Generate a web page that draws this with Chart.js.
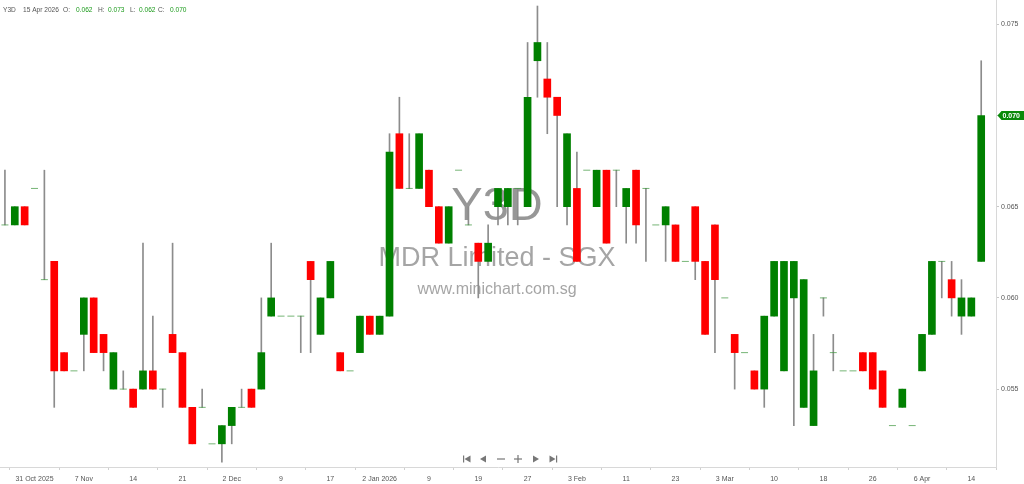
<!DOCTYPE html>
<html>
<head>
<meta charset="utf-8">
<script src="https://cdn.jsdelivr.net/npm/chart.js@4.4.1/dist/chart.umd.min.js"></script>
<style>
  html, body { margin: 0; padding: 0; background: #fff; }
  #wrap { width: 1024px; height: 484px; }
</style>
</head>
<body>
<div id="wrap"><canvas id="priceChart"></canvas></div>
<script>
// header / watermark text
const symbol = "Y3D";
const company = "MDR Limited - SGX";
const site = "www.minichart.com.sg";
const lastDate = "15 Apr 2026";

// daily OHLC, oldest first
const opens = [
  0.064, 0.064, 0.065, 0.066, 0.061, 0.062, 0.057, 0.056, 0.058, 0.060,
  0.058, 0.055, 0.055, 0.055, 0.055, 0.056, 0.055, 0.058, 0.057, 0.054,
  0.054, 0.052, 0.052, 0.053, 0.054, 0.055, 0.055, 0.059, 0.059, 0.059,
  0.059, 0.062, 0.058, 0.060, 0.057, 0.056, 0.057, 0.059, 0.058, 0.059,
  0.069, 0.066, 0.066, 0.067, 0.065, 0.063, 0.067, 0.064, 0.063, 0.062,
  0.065, 0.065, 0.066, 0.065, 0.073, 0.072, 0.071, 0.065, 0.066, 0.067,
  0.065, 0.067, 0.067, 0.065, 0.067, 0.066, 0.064, 0.064, 0.064, 0.062,
  0.065, 0.062, 0.064, 0.060, 0.058, 0.057, 0.056, 0.055, 0.059, 0.056,
  0.060, 0.054, 0.053, 0.060, 0.057, 0.056, 0.056, 0.057, 0.057, 0.056,
  0.053, 0.054, 0.053, 0.056, 0.058, 0.062, 0.061, 0.059, 0.059, 0.062
];
const highs = [
  0.067, 0.065, 0.065, 0.066, 0.067, 0.062, 0.057, 0.056, 0.060, 0.060,
  0.058, 0.057, 0.056, 0.055, 0.063, 0.059, 0.055, 0.063, 0.057, 0.054,
  0.055, 0.052, 0.053, 0.054, 0.055, 0.055, 0.060, 0.063, 0.059, 0.059,
  0.059, 0.062, 0.060, 0.062, 0.057, 0.056, 0.059, 0.059, 0.059, 0.069,
  0.071, 0.069, 0.069, 0.067, 0.065, 0.065, 0.067, 0.065, 0.063, 0.064,
  0.066, 0.066, 0.066, 0.074, 0.076, 0.074, 0.071, 0.069, 0.068, 0.067,
  0.067, 0.067, 0.067, 0.066, 0.067, 0.066, 0.064, 0.065, 0.064, 0.062,
  0.065, 0.062, 0.064, 0.060, 0.058, 0.057, 0.056, 0.059, 0.062, 0.062,
  0.062, 0.061, 0.058, 0.060, 0.058, 0.056, 0.056, 0.057, 0.057, 0.056,
  0.053, 0.055, 0.053, 0.058, 0.062, 0.062, 0.062, 0.061, 0.060, 0.073
];
const lows = [
  0.064, 0.064, 0.064, 0.066, 0.061, 0.054, 0.056, 0.056, 0.056, 0.057,
  0.056, 0.055, 0.055, 0.054, 0.055, 0.055, 0.054, 0.057, 0.054, 0.052,
  0.054, 0.052, 0.051, 0.052, 0.054, 0.054, 0.055, 0.059, 0.059, 0.059,
  0.057, 0.057, 0.058, 0.060, 0.056, 0.056, 0.057, 0.058, 0.058, 0.059,
  0.066, 0.066, 0.066, 0.065, 0.063, 0.063, 0.067, 0.064, 0.060, 0.062,
  0.064, 0.064, 0.064, 0.065, 0.071, 0.069, 0.065, 0.064, 0.062, 0.067,
  0.065, 0.063, 0.065, 0.063, 0.063, 0.062, 0.064, 0.062, 0.062, 0.062,
  0.061, 0.058, 0.057, 0.060, 0.055, 0.057, 0.055, 0.054, 0.059, 0.056,
  0.053, 0.054, 0.053, 0.059, 0.056, 0.056, 0.056, 0.056, 0.055, 0.054,
  0.053, 0.054, 0.053, 0.056, 0.058, 0.060, 0.059, 0.058, 0.059, 0.062
];
const closes = [
  0.064, 0.065, 0.064, 0.066, 0.061, 0.056, 0.056, 0.056, 0.060, 0.057,
  0.057, 0.057, 0.055, 0.054, 0.056, 0.055, 0.055, 0.057, 0.054, 0.052,
  0.054, 0.052, 0.053, 0.054, 0.054, 0.054, 0.057, 0.060, 0.059, 0.059,
  0.059, 0.061, 0.060, 0.062, 0.056, 0.056, 0.059, 0.058, 0.059, 0.068,
  0.066, 0.066, 0.069, 0.065, 0.063, 0.065, 0.067, 0.064, 0.062, 0.063,
  0.066, 0.066, 0.066, 0.071, 0.074, 0.071, 0.070, 0.069, 0.062, 0.067,
  0.067, 0.063, 0.067, 0.066, 0.064, 0.066, 0.064, 0.065, 0.062, 0.062,
  0.062, 0.058, 0.061, 0.060, 0.057, 0.057, 0.055, 0.059, 0.062, 0.062,
  0.062, 0.061, 0.056, 0.060, 0.057, 0.056, 0.056, 0.056, 0.055, 0.054,
  0.053, 0.055, 0.053, 0.058, 0.062, 0.062, 0.060, 0.060, 0.060, 0.070
];

// date labels on the x axis (candle index -> text)
const tickIdx = [3, 8, 13, 18, 23, 28, 33, 38, 43, 48, 53, 58, 63, 68, 73, 78, 83, 88, 93, 98];
const tickText = ["31 Oct 2025", "7 Nov", "14", "21", "2 Dec", "9", "17", "2 Jan 2026", "9", "19",
                  "27", "3 Feb", "11", "23", "3 Mar", "10", "18", "26", "6 Apr", "14"];
const priceTicks = [0.055, 0.060, 0.065, 0.070, 0.075];

const upColor = "#008000";
const downColor = "#ff0000";
const smallFont = "'Liberation Sans', Arial, sans-serif";

let bodyData = [], wickData = [], dojiData = [];
for (let i = 0; i < closes.length; i++) {
    if (highs[i] > lows[i]) wickData.push({ x: i, y: [lows[i], highs[i]] });
    if (opens[i] === closes[i]) dojiData.push({ x: i, y: closes[i] });
    else bodyData.push({ x: i, y: [opens[i], closes[i]] });
}
const last = closes.length - 1;

//watermark behind candles
const watermark = {
    id: "watermark",
    beforeDatasetsDraw(chart) {
        const c = chart.ctx;
        c.save();
        c.textAlign = "center";
        c.textBaseline = "alphabetic";
        c.fillStyle = "rgba(125,125,125,0.8)";
        c.font = "47px 'Liberation Sans', Arial, sans-serif";
        c.fillText(symbol, 497, 220);
        c.fillStyle = "rgba(135,135,135,0.75)";
        c.font = "27px 'Liberation Sans', Arial, sans-serif";
        c.fillText(company, 497, 266);
        c.font = "16px 'Liberation Sans', Arial, sans-serif";
        c.fillText(site, 497, 294);
        c.restore();
    },
};

//header, last price tag, nav buttons
function tri(c, x, y, dir) {
    c.beginPath();
    c.moveTo(x + dir * 3, y);
    c.lineTo(x - dir * 3, y - 3.5);
    c.lineTo(x - dir * 3, y + 3.5);
    c.closePath();
    c.fill();
}

const overlay = {
    id: "overlay",
    afterDraw(chart) {
        const c = chart.ctx;
        c.save();
        c.font = "6.6px " + smallFont;
        c.textBaseline = "middle";
        c.textAlign = "left";
        let parts = [
            [symbol, 3, "#555"], [lastDate, 23, "#555"],
            ["O:", 63, "#555"], [opens[last].toFixed(3), 76, "#1a9a1a"],
            ["H:", 98, "#555"], [highs[last].toFixed(3), 108, "#1a9a1a"],
            ["L:", 130, "#555"], [lows[last].toFixed(3), 139, "#1a9a1a"],
            ["C:", 158, "#555"], [closes[last].toFixed(3), 170, "#1a9a1a"],
        ];
        parts.forEach(p => {
            c.fillStyle = p[2];
            c.fillText(p[0], p[1], 10);
        });

        // last price tag
        const y = chart.scales.y.getPixelForValue(closes[last]);
        const x0 = chart.chartArea.right + 1.5;
        c.fillStyle = closes[last] >= opens[last] ? "#0a8a0a" : downColor;
        c.beginPath();
        c.moveTo(x0, y);
        c.lineTo(x0 + 4, y - 4.5);
        c.lineTo(1024, y - 4.5);
        c.lineTo(1024, y + 4.5);
        c.lineTo(x0 + 4, y + 4.5);
        c.closePath();
        c.fill();
        c.fillStyle = "#fff";
        c.font = "bold 7px " + smallFont;
        c.fillText(closes[last].toFixed(3), x0 + 5, y + 0.5);

        // navigation buttons
        const ny = 459;
        c.fillStyle = "#777";
        c.fillRect(463, ny - 3.5, 1.2, 7);
        tri(c, 467.5, ny, -1);
        tri(c, 483, ny, -1);
        c.fillRect(497, ny - 0.6, 8, 1.2);
        c.fillRect(514, ny - 0.6, 8, 1.2);
        c.fillRect(517.4, ny - 4, 1.2, 8);
        tri(c, 536, ny, 1);
        tri(c, 552.5, ny, 1);
        c.fillRect(556, ny - 3.5, 1.2, 7);
        c.restore();
    },
};

let chartCanvas = document.getElementById("priceChart").getContext("2d");

new Chart(chartCanvas, {
    type: "bar",
    data: {
        datasets: [{
            label: "body",
            data: bodyData,
            grouped: false,
            barThickness: 7,
            borderWidth: 0,
            backgroundColor: ctx => (ctx.raw && ctx.raw.y[1] > ctx.raw.y[0]) ? upColor : downColor,
            order: 1,
        }, {
            label: "doji",
            type: "scatter",
            data: dojiData,
            pointStyle: "line",
            radius: 3.5,
            borderWidth: 1,
            borderColor: "rgba(60,150,60,0.7)",
            order: 2,
        }, {
            label: "wick",
            data: wickData,
            grouped: false,
            barThickness: 1,
            borderWidth: 0,
            backgroundColor: "#8c8c8c",
            order: 3,
        }],
    },
    options: {
        responsive: true,
        maintainAspectRatio: false,
        animation: false,
        layout: { padding: 0, autoPadding: false },
        plugins: {
            legend: { display: false },
            tooltip: { enabled: false },
        },
        scales: {
            x: {
                type: "linear",
                min: -0.5,
                max: 100.5,
                offset: false,
                afterBuildTicks: axis => { axis.ticks = tickIdx.map(v => ({ value: v })); },
                afterFit: axis => { axis.height = 17; axis.paddingLeft = 0; axis.paddingRight = 0; },
                grid: { drawOnChartArea: false, drawTicks: true, tickLength: 3, color: "#d0d0d0" },
                border: { color: "#d8d8d8" },
                ticks: {
                    autoSkip: false,
                    maxRotation: 0,
                    padding: 5,
                    color: "#555",
                    font: { size: 7, family: smallFont },
                    callback: v => tickText[tickIdx.indexOf(v)],
                },
            },
            y: {
                position: "right",
                min: 0.05073,
                max: 0.07633,
                afterBuildTicks: axis => { axis.ticks = priceTicks.map(v => ({ value: v })); },
                afterFit: axis => { axis.width = 28; axis.paddingTop = 0; axis.paddingBottom = 0; },
                grid: { drawOnChartArea: false, drawTicks: true, tickLength: 3, color: "#c8c8c8" },
                border: { color: "#d8d8d8" },
                ticks: {
                    padding: 2,
                    color: "#555",
                    font: { size: 7, family: smallFont },
                    callback: v => v.toFixed(3),
                },
            },
        },
    },
    plugins: [watermark, overlay],
});
</script>
</body>
</html>
